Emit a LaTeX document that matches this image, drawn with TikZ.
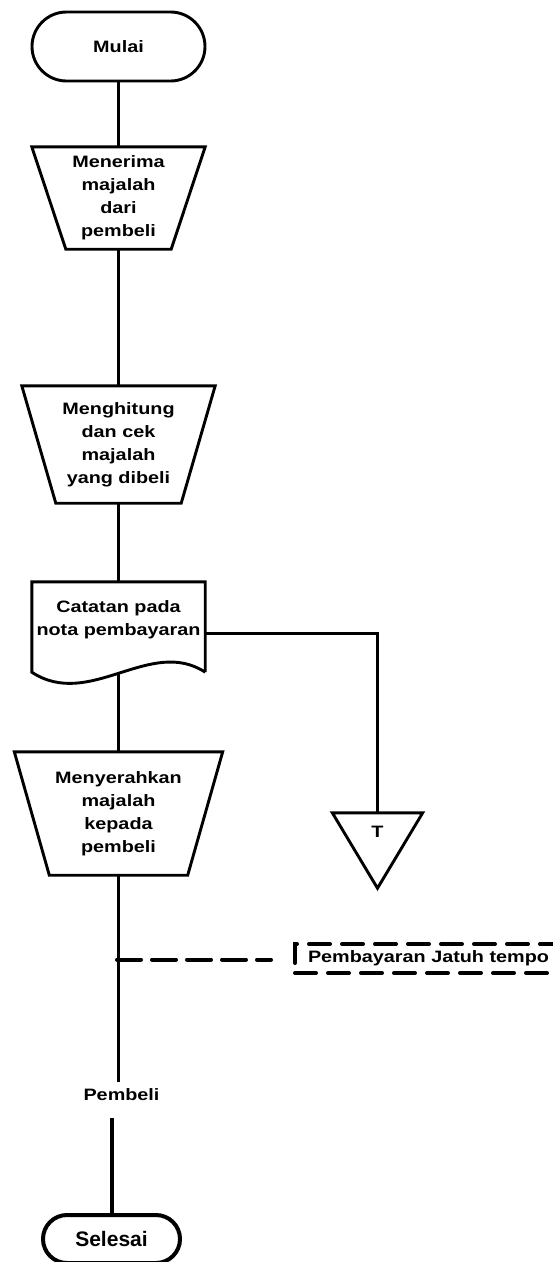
\documentclass[tikz,border=0pt]{standalone}
\usepackage{fontspec}
\setmainfont{Liberation Sans}
\newfontfamily\wideface[FakeStretch=1.2]{Liberation Sans}
\usetikzlibrary{calc}

\tikzset{
  flow/.style={line width=2.9pt, line join=miter},
  txt/.style={font=\wideface\bfseries\fontsize{16.5}{23}\selectfont, align=center, inner sep=0pt},
  terminal/.style={draw, flow, rounded corners=#1, inner sep=0pt},
  box/.style={inner sep=0pt},
  dashline/.style={line width=4pt, dash pattern=on 24pt off 11pt, line cap=round},
  notebox/.style={draw, line width=4pt, dash pattern=on 21pt off 12pt, line cap=round},
}

\begin{document}
\begin{tikzpicture}[x=1pt,y=-1pt]
\clip (0,0) rectangle (553,1262);

% start terminal
\node[terminal=34.5pt, txt, minimum width=173pt, minimum height=69pt] (start) at (118.5,46.5) {Mulai};

% manual operation: receive magazines
\node[txt, box, minimum width=173pt, minimum height=102pt] (recv) at (118.5,198) {Menerima\\majalah\\dari\\pembeli};
\draw[flow] (recv.north west) -- (recv.north east) -- ([xshift=-34pt]recv.south east)
  -- ([xshift=34pt]recv.south west) -- cycle;

% manual operation: count and check
\node[txt, box, minimum width=193pt, minimum height=117pt] (count) at (118.5,444.5) {Menghitung\\dan cek\\majalah\\yang dibeli};
\draw[flow] (count.north west) -- (count.north east) -- ([xshift=-34pt]count.south east)
  -- ([xshift=34pt]count.south west) -- cycle;

% document: payment note
\node[box, minimum width=173pt, minimum height=90pt] (doc) at (118.5,627) {};
\node[txt] (doctext) at (118.5,620) {Catatan pada\\nota pembayaran};
\draw[flow] (doc.south east) -- (doc.north east) -- (doc.north west) -- (doc.south west)
  .. controls ($(doc.south west)+(58,38)$) and ($(doc.south east)+(-55,-36)$) .. (doc.south east)
  coordinate[pos=0.5] (docout);

% manual operation: hand over magazines
\node[txt, box, minimum width=208pt, minimum height=123pt] (give) at (118.5,813.5) {Menyerahkan\\majalah\\kepada\\pembeli};
\draw[flow] (give.north west) -- (give.north east) -- ([xshift=-35pt]give.south east)
  -- ([xshift=35pt]give.south west) -- cycle;

% offline storage
\node[box, minimum width=90pt, minimum height=75pt] (tri) at (377.5,850.5) {};
\node[txt] (tritext) at (377.5,832) {T};
\draw[flow] (tri.north west) -- (tri.north east) -- (tri.south) -- cycle;

% buyer label and end terminal
\node[txt, inner sep=7pt] (buyer) at (121.5,1095) {Pembeli};
\node[terminal=24pt, line width=4pt, font=\bfseries\fontsize{21}{25}\selectfont, minimum width=137pt, minimum height=48pt] (end) at (111.5,1239) {Selesai};

% annotation
\node[notebox, txt, minimum width=267pt, minimum height=29pt] (note) at (428.5,958.5) {Pembayaran Jatuh tempo};

% connectors
\draw[flow] (start.south) -- (start.south |- recv.north);
\draw[flow] (recv.south) -- (recv.south |- count.north);
\draw[flow] (count.south) -- (count.south |- doc.north);
\draw[flow] (docout -| doc.south) -- (doc.south |- give.north);
\draw[flow] ([yshift=-6.5pt]doc.east) -| (tri.north);
\draw[flow] (give.south) -- (give.south |- buyer.north);
\draw[flow, line width=4pt] ([yshift=-10pt]buyer.south -| end.north) -- (end.north);
\coordinate (tap) at (117,959.5);
\draw[dashline] (tap) -- ([xshift=-22pt]note.west |- tap);
\end{tikzpicture}
\end{document}
